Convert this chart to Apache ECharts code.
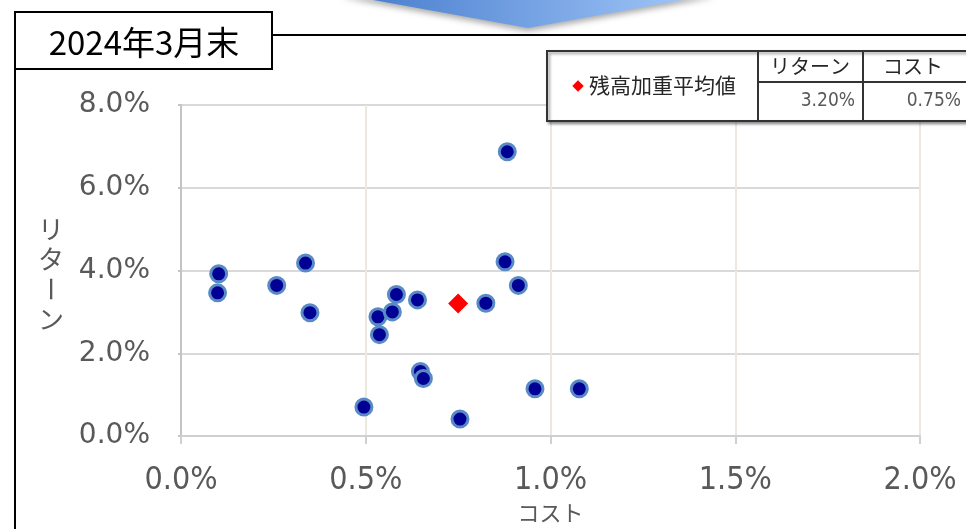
<!DOCTYPE html>
<html>
<head>
<meta charset="utf-8">
<script src="https://cdn.jsdelivr.net/npm/echarts@6/dist/echarts.min.js"></script>
<style>
  html, body { margin: 0; padding: 0; background: #fff; }
  #chart { width: 966px; height: 529px; }
</style>
</head>
<body>
<div id="chart"></div>
<script>
// ファンド別 コスト(%) / リターン(%)
const costData = [0.102, 0.099, 0.259, 0.337, 0.349, 0.495, 0.533, 0.537, 0.572, 0.583,
                  0.640, 0.648, 0.656, 0.755, 0.825, 0.877, 0.883, 0.913, 0.958, 1.078];
const returnData = [3.92, 3.46, 3.64, 4.18, 2.98, 0.70, 2.88, 2.45, 3.00, 3.42,
                    3.29, 1.56, 1.39, 0.41, 3.21, 4.21, 6.87, 3.64, 1.14, 1.14];
// 残高加重平均値
const avgCost = 0.75;
const avgReturn = 3.20;

const titleText = '2024年3月末';
const xName = 'コスト';
const yNameChars = ['リ', 'タ', 'ー', 'ン'];
const xMin = 0, xMax = 2, xStep = 0.5;
const yMin = 0, yMax = 8, yStep = 2;

const labelColor = '#595959';
const darkText = '#262626';

const chart = echarts.init(document.getElementById('chart'));

const pct = (v) => v.toFixed(1) + '%';

// 縦書きの軸名
const yNameGraphics = yNameChars.map((ch, i) => ({
  type: 'text',
  x: 51,
  y: 229 + i * 30,
  rotation: ch === 'ー' ? -Math.PI / 2 : 0,
  style: {
    text: ch,
    fill: labelColor,
    font: '26px "Noto Sans CJK JP"',
    textAlign: 'center',
    textVerticalAlign: 'middle'
  }
}));

chart.setOption({
  animation: false,
  backgroundColor: '#fff',
  grid: { left: 181, right: 46, top: 105, bottom: 93 },
  xAxis: {
    type: 'value',
    min: xMin,
    max: xMax,
    interval: xStep,
    name: xName,
    nameLocation: 'middle',
    nameGap: 64,
    nameTextStyle: { color: labelColor, fontSize: 22, fontFamily: 'Noto Sans CJK JP' },
    axisLine: { show: true, lineStyle: { color: '#d0d0d0', width: 2 } },
    axisTick: { show: true, length: 8, lineStyle: { color: '#d0d0d0', width: 2 } },
    axisLabel: {
      margin: 29,
      color: labelColor,
      fontSize: 32,
      fontFamily: 'DejaVu Sans Condensed',
      formatter: pct
    },
    splitLine: { show: true, lineStyle: { color: '#ece8de', width: 2 } }
  },
  yAxis: {
    type: 'value',
    min: yMin,
    max: yMax,
    interval: yStep,
    axisLine: { show: true, lineStyle: { color: '#c4c4c4', width: 2 } },
    axisTick: { show: true, length: 3, lineStyle: { color: '#c4c4c4', width: 2 } },
    axisLabel: {
      margin: 31,
      color: labelColor,
      fontSize: 28,
      fontFamily: 'DejaVu Sans',
      formatter: pct
    },
    splitLine: { show: true, lineStyle: { color: '#d9d9d9', width: 2 } }
  },
  series: [
    {
      type: 'scatter',
      symbol: 'circle',
      symbolSize: 16,
      itemStyle: { color: '#000094', borderColor: '#5a8ac6', borderWidth: 3, opacity: 1 },
      data: costData.map((c, i) => [c, returnData[i]])
    },
    {
      type: 'scatter',
      symbol: 'diamond',
      symbolSize: [20, 20],
      itemStyle: { color: '#ff0000', opacity: 1 },
      z: 3,
      data: [[avgCost, avgReturn]]
    }
  ],
  graphic: [
    // 上部の矢印
    {
      type: 'polygon',
      z: 10,
      shape: { points: [[340, -6], [716, -6], [528, 28]] },
      style: {
        fill: new echarts.graphic.LinearGradient(0, 0, 1, 0, [
          { offset: 0, color: '#4378cb' },
          { offset: 1, color: '#a6cbfa' }
        ]),
        shadowBlur: 6,
        shadowOffsetY: 3,
        shadowColor: 'rgba(0,0,0,0.35)'
      }
    },
    // 枠線
    { type: 'line', z: 10, shape: { x1: 272, y1: 35, x2: 966, y2: 35 }, style: { stroke: '#000', lineWidth: 2 } },
    { type: 'line', z: 10, shape: { x1: 15, y1: 12, x2: 15, y2: 529 }, style: { stroke: '#000', lineWidth: 2 } },
    // タイトル
    {
      type: 'rect', z: 11,
      shape: { x: 15, y: 12, width: 257, height: 57 },
      style: { fill: '#fff', stroke: '#000', lineWidth: 2 }
    },
    {
      type: 'text', z: 12, x: 144, y: 42,
      style: {
        text: titleText, fill: '#000', font: '33px "Noto Sans CJK JP"',
        textAlign: 'center', textVerticalAlign: 'middle'
      }
    },
    // 残高加重平均値の表
    {
      type: 'rect', z: 20,
      shape: { x: 547, y: 51, width: 440, height: 70 },
      style: {
        fill: '#fff', stroke: '#333', lineWidth: 2,
        shadowBlur: 3, shadowOffsetX: 2, shadowOffsetY: 2, shadowColor: 'rgba(0,0,0,0.4)'
      }
    },
    { type: 'line', z: 21, shape: { x1: 758, y1: 51, x2: 758, y2: 121 }, style: { stroke: '#333', lineWidth: 2 } },
    { type: 'line', z: 21, shape: { x1: 863, y1: 51, x2: 863, y2: 121 }, style: { stroke: '#333', lineWidth: 2 } },
    { type: 'line', z: 21, shape: { x1: 758, y1: 82, x2: 966, y2: 82 }, style: { stroke: '#333', lineWidth: 2 } },
    {
      type: 'text', z: 22, x: 578, y: 86,
      style: { text: '◆', fill: '#ff0000', font: '15px "DejaVu Sans"', textAlign: 'center', textVerticalAlign: 'middle' }
    },
    {
      type: 'text', z: 22, x: 589, y: 85,
      style: { text: '残高加重平均値', fill: darkText, font: '21px "Noto Sans CJK JP"', textAlign: 'left', textVerticalAlign: 'middle' }
    },
    {
      type: 'text', z: 22, x: 810, y: 66,
      style: { text: 'リターン', fill: darkText, font: '20px "Noto Sans CJK JP"', textAlign: 'center', textVerticalAlign: 'middle' }
    },
    {
      type: 'text', z: 22, x: 913, y: 66,
      style: { text: 'コスト', fill: darkText, font: '20px "Noto Sans CJK JP"', textAlign: 'center', textVerticalAlign: 'middle' }
    },
    {
      type: 'text', z: 22, x: 855, y: 101,
      style: { text: avgReturn.toFixed(2) + '%', fill: labelColor, font: '19px "DejaVu Sans Condensed"', textAlign: 'right', textVerticalAlign: 'middle' }
    },
    {
      type: 'text', z: 22, x: 961, y: 101,
      style: { text: avgCost.toFixed(2) + '%', fill: labelColor, font: '19px "DejaVu Sans Condensed"', textAlign: 'right', textVerticalAlign: 'middle' }
    }
  ].concat(yNameGraphics)
});
</script>
</body>
</html>
